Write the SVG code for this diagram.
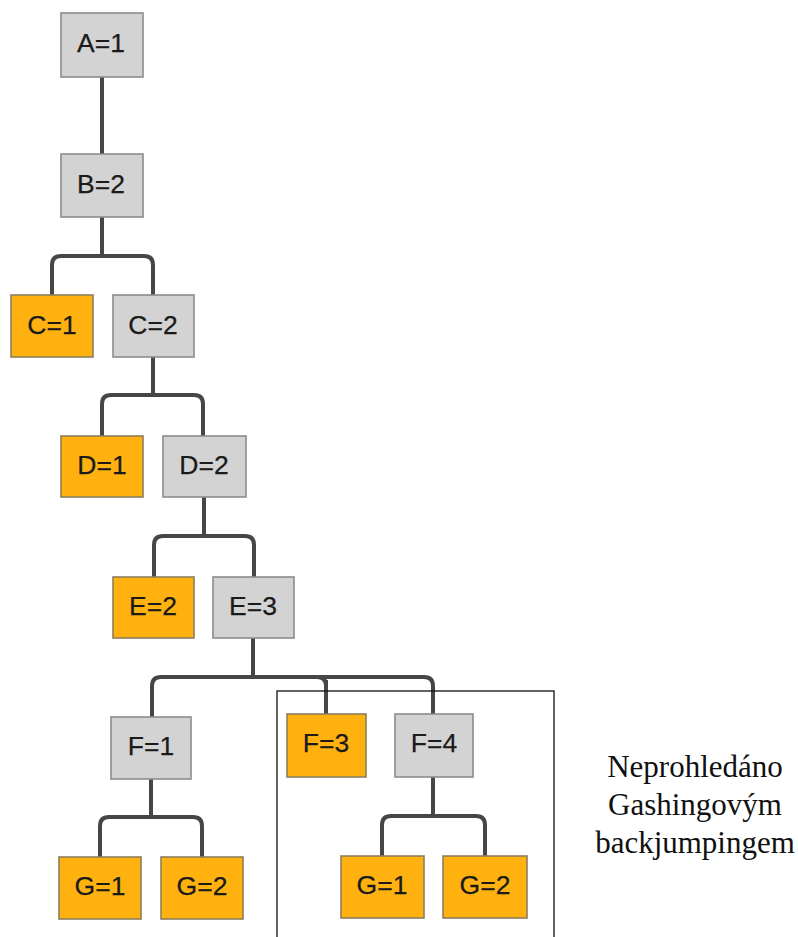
<svg xmlns="http://www.w3.org/2000/svg" width="798" height="937" viewBox="0 0 798 937">
  <style>
    .node rect { stroke-width: 1.6; }
    .gray rect { fill: #d3d3d3; stroke: #8c8c8c; }
    .orange rect { fill: #ffb20f; stroke: #8e7f5c; }
    .node text { font-family: "Liberation Sans", Arial, sans-serif; font-size: 26.5px; fill: #1a1a1a; stroke: #1a1a1a; stroke-width: 0.25; text-anchor: middle; }
    .links path { fill: none; stroke: #464646; stroke-width: 4; stroke-linejoin: round; }
    .note { font-family: "Liberation Serif", "Times New Roman", serif; font-size: 31px; fill: #111; text-anchor: middle; }
  </style>

  <!-- tree connectors -->
  <g class="links">
    <path d="M102 77 V154"/>
    <path d="M102 217 V256"/>
    <path d="M52 295 V265 Q52 256 61 256 H144 Q153 256 153 265 V295"/>
    <path d="M153 357 V395"/>
    <path d="M102 436 V404 Q102 395 111 395 H194 Q203 395 203 404 V436"/>
    <path d="M204 497 V536"/>
    <path d="M154 577 V545 Q154 536 163 536 H245 Q254 536 254 545 V577"/>
    <path d="M253 638 V677"/>
    <path d="M152 717 V686 Q152 677 161 677 H424 Q433 677 433 686 V714"/>
    <path d="M326 686 Q326 677 317 677"/>
    <path d="M326 680 V714"/>
    <path d="M151 779 V817"/>
    <path d="M100 857 V826 Q100 817 109 817 H193 Q202 817 202 826 V857"/>
    <path d="M433 777 V816"/>
    <path d="M382 856 V825 Q382 816 391 816 H476 Q485 816 485 825 V856"/>
  </g>

  <g id="A1" class="node gray"><rect x="61" y="13" width="82" height="64"/><text x="101" y="52">A=1</text></g>
  <g id="B2" class="node gray"><rect x="61" y="154" width="82" height="63"/><text x="101" y="193">B=2</text></g>
  <g id="C1" class="node orange"><rect x="11" y="295" width="82" height="62"/><text x="52" y="334">C=1</text></g>
  <g id="C2" class="node gray"><rect x="113" y="295" width="81" height="62"/><text x="153" y="334">C=2</text></g>
  <g id="D1" class="node orange"><rect x="61" y="436" width="82" height="61"/><text x="102" y="474">D=1</text></g>
  <g id="D2" class="node gray"><rect x="163" y="436" width="83" height="61"/><text x="204" y="474">D=2</text></g>
  <g id="E2" class="node orange"><rect x="113" y="577" width="81" height="61"/><text x="153" y="615">E=2</text></g>
  <g id="E3" class="node gray"><rect x="213" y="577" width="81" height="61"/><text x="253" y="615">E=3</text></g>
  <g id="F1" class="node gray"><rect x="111" y="717" width="80" height="62"/><text x="151" y="755">F=1</text></g>
  <g id="F3" class="node orange"><rect x="287" y="714" width="79" height="63"/><text x="326" y="752">F=3</text></g>
  <g id="F4" class="node gray"><rect x="395" y="714" width="78" height="63"/><text x="434" y="752">F=4</text></g>
  <g id="G1a" class="node orange"><rect x="59" y="857" width="82" height="62"/><text x="100" y="895">G=1</text></g>
  <g id="G2a" class="node orange"><rect x="161" y="857" width="82" height="62"/><text x="202" y="895">G=2</text></g>
  <g id="G1b" class="node orange"><rect x="341" y="856" width="83" height="62"/><text x="382" y="894">G=1</text></g>
  <g id="G2b" class="node orange"><rect x="443" y="856" width="84" height="62"/><text x="485" y="894">G=2</text></g>

  <!-- pruned subtree frame and its note -->
  <g id="pruned">
    <rect x="277" y="691" width="277" height="260" fill="none" stroke="#111" stroke-width="1.3"/>
  </g>
  <g id="note">
    <text class="note" x="695" y="777">Neprohledáno</text>
    <text class="note" x="695" y="815">Gashingovým</text>
    <text class="note" x="695" y="853">backjumpingem</text>
  </g>
</svg>
